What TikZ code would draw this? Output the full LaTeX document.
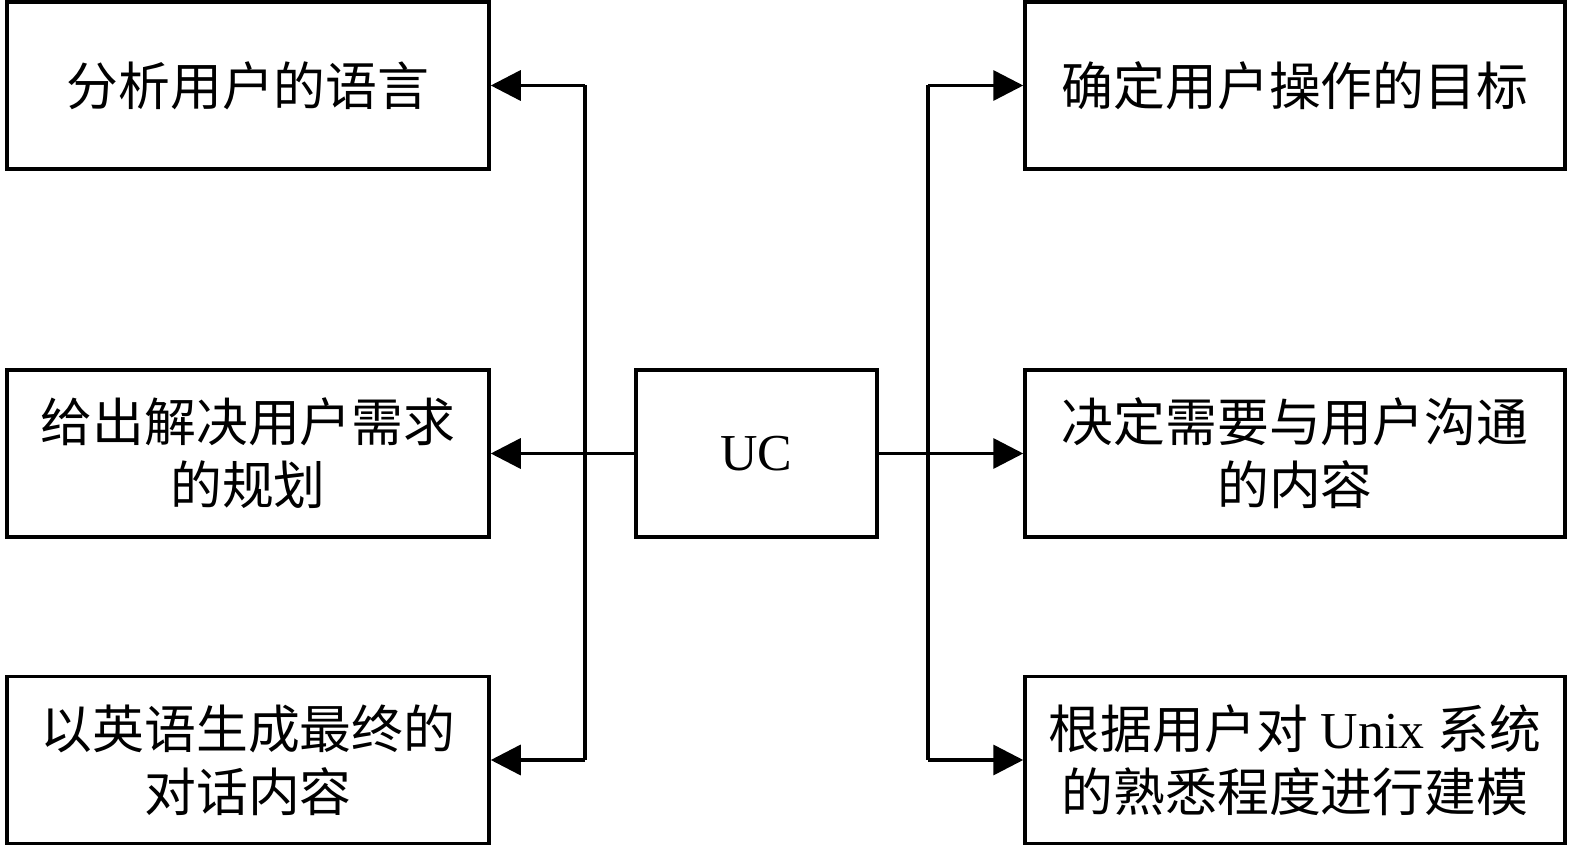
\documentclass[tikz,border=0pt]{standalone}
\usepackage{fontspec}
\setmainfont{Liberation Serif}
\newfontfamily\cjk{Noto Sans CJK SC}
\usetikzlibrary{arrows.meta, positioning}

\begin{document}
\begin{tikzpicture}[
  taskbox/.style={draw, line width=2pt, minimum height=3.34cm, align=center, inner sep=0pt, font=\fontsize{29.5}{36}\selectfont},
  leftbox/.style={taskbox, minimum width=9.64cm},
  rightbox/.style={taskbox, minimum width=10.8cm},
  link/.style={line width=2pt},
  arr/.style={link, -{Triangle[length=0.6cm, width=0.6cm]}}
]
  \useasboundingbox (0,0) rectangle (31.5,17);

  % Central node
  \node[taskbox, minimum width=4.82cm] (uc) at (15.13, 7.93) {UC};

  % Left column
  \node[leftbox] (lang) at (4.96, 15.29) {\cjk 分析用户的语言};
  \node[leftbox] (plan) at (4.96, 7.93) {\cjk 给出解决用户需求\\\cjk 的规划};
  \node[leftbox] (reply) at (4.96, 1.8) {\cjk 以英语生成最终的\\\cjk 对话内容};

  % Right column
  \node[rightbox] (goal) at (25.9, 15.29) {\cjk 确定用户操作的目标};
  \node[rightbox] (topic) at (25.9, 7.93) {\cjk 决定需要与用户沟通\\\cjk 的内容};
  \node[rightbox] (model) at (25.9, 1.8) {{\cjk 根据用户对} Unix {\cjk 系统}\\\cjk 的熟悉程度进行建模};

  % Trunks
  \coordinate (ltop) at (11.7, 15.29);
  \coordinate (lbot) at (11.7, 1.8);
  \coordinate (rtop) at (18.56, 15.29);
  \coordinate (rbot) at (18.56, 1.8);

  \draw[link] (ltop) -- (lbot);
  \draw[link] (rtop) -- (rbot);

  \draw[arr] (uc) -- (plan);
  \draw[arr] (ltop) -- (lang);
  \draw[arr] (lbot) -- (reply);

  \draw[arr] (uc) -- (topic);
  \draw[arr] (rtop) -- (goal);
  \draw[arr] (rbot) -- (model);
\end{tikzpicture}
\end{document}
